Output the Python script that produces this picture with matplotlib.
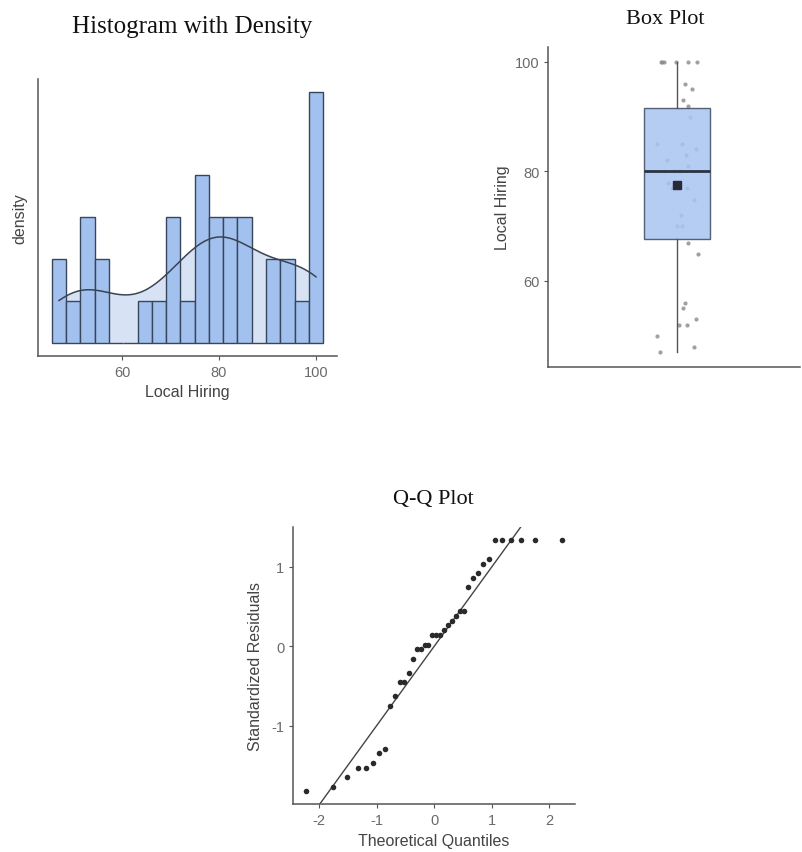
import numpy as np
import matplotlib
matplotlib.use("Agg")
import matplotlib.pyplot as plt
from statistics import NormalDist

plt.rcParams["axes.unicode_minus"] = False

# Local Hiring values (sorted) read from the Q-Q / box plot
hiring = np.array([47, 48, 50, 52, 52, 53, 55, 56, 65, 67, 70, 70, 72, 74.8,
                   77, 77, 77.8, 77.8, 80, 80, 80, 81, 82, 83, 84, 85, 85,
                   90, 92, 93, 95, 96, 100, 100, 100, 100, 100, 100])
# horizontal jitter of the strip points (in box half-widths)
jitter = np.array([-0.52, 0.51, -0.60, 0.06, 0.29, 0.57, 0.16, 0.22, 0.62, 0.34,
                   0.0, 0.15, 0.12, 0.50, 0.30, -0.16, -0.29, 0.0, -0.40, -0.11,
                   0.09, 0.33, -0.31, 0.26, 0.57, -0.60, 0.13, 0.40, 0.33, 0.16,
                   0.44, 0.23, -0.50, -0.45, -0.40, -0.04, 0.33, 0.61])
n_bins = 19
hist_ticks = [60, 80, 100]
box_ticks = [60, 80, 100]
qq_xticks = [-2, -1, 0, 1, 2]
qq_yticks = [-1, 0, 1]

W, H = 803, 853
fig = plt.figure(figsize=(W / 100, H / 100), dpi=100)

def add_ax(left, right, top, bottom):
    return fig.add_axes([left / W, 1 - bottom / H, (right - left) / W, (bottom - top) / H])

spine_col = "#555555"
tick_col = "#6a6a6a"
label_col = "#444444"
sans = "Liberation Sans"
serif = "Liberation Serif"

def style(ax):
    for s in ["top", "right"]:
        ax.spines[s].set_visible(False)
    for s in ["left", "bottom"]:
        ax.spines[s].set_color(spine_col)
        ax.spines[s].set_linewidth(1.1)
    ax.tick_params(colors=spine_col, labelcolor=tick_col, labelsize=10.5, length=3, width=0.8)
    for lab in ax.get_xticklabels() + ax.get_yticklabels():
        lab.set_fontfamily(sans)

# ---------------- histogram with density ----------------
ax1 = add_ax(38.3, 336.7, 80, 356.7)
lo, hi = hiring.min(), hiring.max()
bw = (hi - lo) / (n_bins - 1)
edges = lo - bw / 2 + bw * np.arange(n_bins + 1)
counts, _ = np.histogram(hiring, bins=edges)
dens = counts / (len(hiring) * bw)

# gaussian kde, bw.nrd0
sd = hiring.std(ddof=1)
q1, q3 = np.percentile(hiring, [25, 75])
h = 0.9 * min(sd, (q3 - q1) / 1.34) * len(hiring) ** -0.2
grid = np.linspace(lo, hi, 400)
kde = np.exp(-0.5 * ((grid[:, None] - hiring[None, :]) / h) ** 2).sum(axis=1) / (len(hiring) * h * np.sqrt(2 * np.pi))
ax1.fill_between(grid, 0, kde, color="#c6d8f2", alpha=0.7, lw=0, zorder=1)
ax1.bar(edges[:-1], dens, width=bw, align="edge", color="#a3c1ee",
        edgecolor="#37465a", linewidth=1.0, zorder=2)
ax1.plot(grid, kde, color="#3a4352", lw=1.1, zorder=4)

ymax = dens.max()
ax1.set_ylim(-0.05 * ymax, 1.05 * ymax)
xr = edges[-1] - edges[0]
ax1.set_xlim(edges[0] - 0.05 * xr, edges[-1] + 0.05 * xr)
ax1.set_xticks(hist_ticks)
ax1.set_yticks([])
style(ax1)
ax1.set_xlabel("Local Hiring", fontfamily=sans, fontsize=11.5, color=label_col, labelpad=4)
ax1.set_ylabel("density", fontfamily=sans, fontsize=11.5, color=label_col, labelpad=8)
fig.text(192 / W, 1 - 27 / H, "Histogram with Density", fontfamily=serif, fontsize=18,
         ha="center", va="center", color="#111111")

# ---------------- box plot ----------------
ax2 = add_ax(548.3, 800, 48.3, 367.7)
ax2.scatter(jitter, hiring, s=9, color="#8a8a8a", alpha=0.8, lw=0, zorder=1)
ax2.boxplot(hiring, positions=[0], widths=2.0, whis=1.5, patch_artist=True,
            showfliers=False, showcaps=False,
            boxprops=dict(facecolor="#a8c5f0", edgecolor="#3c4a5e", linewidth=1.0, alpha=0.85),
            medianprops=dict(color="#2b3340", linewidth=2.0),
            whiskerprops=dict(color="#555555", linewidth=1.0), zorder=2)
ax2.plot([0], [hiring.mean()], marker="s", ms=6, color="#262c36", zorder=5)
ax2.set_xlim(-3.91, 3.72)
yr = hi - lo
ax2.set_ylim(lo - 0.05 * yr, hi + 0.05 * yr)
ax2.set_yticks(box_ticks)
ax2.set_xticks([])
style(ax2)
ax2.set_ylabel("Local Hiring", fontfamily=sans, fontsize=11.5, color=label_col, labelpad=3)
fig.text(665 / W, 1 - 19 / H, "Box Plot", fontfamily=serif, fontsize=16,
         ha="center", va="center", color="#111111")

# ---------------- Q-Q plot ----------------
ax3 = add_ax(293.3, 575, 528.3, 805)
n = len(hiring)
theo = np.array([NormalDist().inv_cdf((i - 0.5) / n) for i in range(1, n + 1)])
resid = np.sort((hiring - hiring.mean()) / sd)
ax3.scatter(theo, resid, s=16, color="#2a2a2a", lw=0, zorder=3)
ax3.axline((0, 0), slope=1, color="#444444", lw=1.0, zorder=2)
xr3 = theo.max() - theo.min()
ax3.set_xlim(theo.min() - 0.05 * xr3, theo.max() + 0.05 * xr3)
yr3 = resid.max() - resid.min()
ax3.set_ylim(resid.min() - 0.05 * yr3, resid.max() + 0.05 * yr3)
ax3.set_xticks(qq_xticks)
ax3.set_yticks(qq_yticks)
style(ax3)
ax3.set_xlabel("Theoretical Quantiles", fontfamily=sans, fontsize=11.5, color=label_col, labelpad=4)
ax3.set_ylabel("Standardized Residuals", fontfamily=sans, fontsize=11.5, color=label_col, labelpad=6)
fig.text(433 / W, 1 - 500 / H, "Q-Q Plot", fontfamily=serif, fontsize=16,
         ha="center", va="center", color="#111111")

fig.savefig("out.png", dpi=100, facecolor="white")
